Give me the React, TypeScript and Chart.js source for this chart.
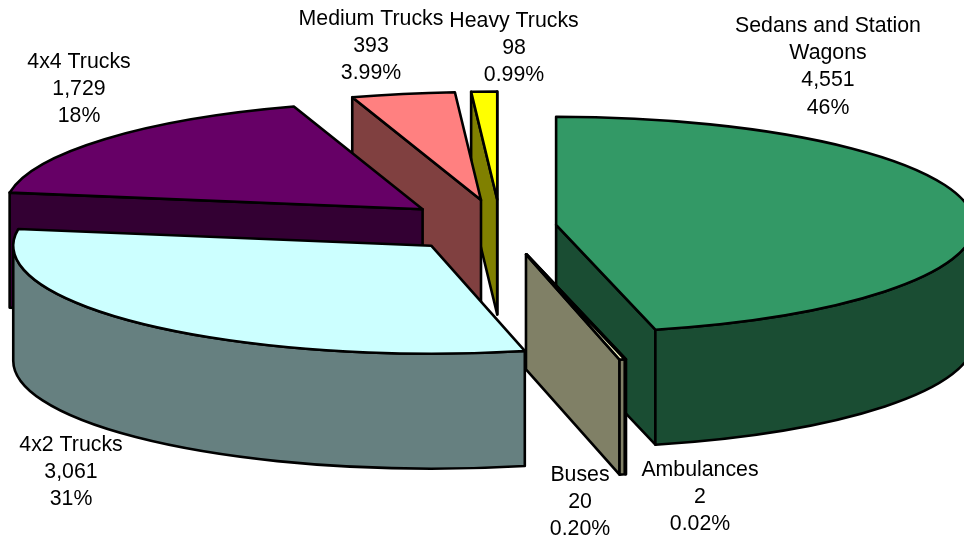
import React, { useEffect, useRef } from "react";
import { Chart, registerables } from "chart.js";

Chart.register(...registerables);

const categories = ["Sedans and Station Wagons", "Ambulances", "Buses", "4x2 Trucks", "4x4 Trucks", "Medium Trucks", "Heavy Trucks"];
const unitValues = [4551, 2, 20, 3061, 1729, 393, 98];
const valueLabels = ["4,551", "2", "20", "3,061", "1,729", "393", "98"];
const percentLabels = ["46%", "0.02%", "0.20%", "31%", "18%", "3.99%", "0.99%"];
const sliceColors = ["#339966", "#993366", "#FFFFCC", "#CCFFFF", "#660066", "#FF8080", "#FFFF00"];
const explosions = [0.134, 0.265, 0.265, 0.243, 0.245, 0.25, 0.25];

// Label layout: name lines, centre x and middle y of the first line.
const labelNames = [["Sedans and Station", "Wagons"], ["Ambulances"], ["Buses"], ["4x2 Trucks"], ["4x4 Trucks"], ["Medium Trucks"], ["Heavy Trucks"]];
const labelX = [828, 700, 580, 71, 79, 371, 514];
const labelY = [26, 470, 475, 445, 62, 19, 21];
const LINE_HEIGHT = 27.3;

const TILT = 108 / 418;
const DEPTH = 115;
const RADIUS = 418;

const halfColor = (hex: string) => {
  const n = parseInt(hex.slice(1), 16);
  const c = (v: number) => Math.round(v / 2);
  return `rgb(${c((n >> 16) & 255)},${c((n >> 8) & 255)},${c(n & 255)})`;
};

const pie3d = {
  id: "pie3d",
  beforeDatasetsDraw(chart: any) {
    const ctx: CanvasRenderingContext2D = chart.ctx;
    const arcs = chart.getDatasetMeta(0).data as any[];
    const slices = arcs.map((arc, i) => {
      const a = arc.startAngle;
      const b = arc.endAngle;
      const mid = (a + b) / 2;
      const r = arc.outerRadius;
      return {
        i, a, b, r,
        x: arc.x + explosions[i] * r * Math.cos(mid),
        y: arc.y + explosions[i] * r * TILT * Math.sin(mid),
      };
    });
    slices.sort((p, q) => p.y - q.y || p.i - q.i);
    ctx.save();
    ctx.lineWidth = 2.6;
    ctx.lineJoin = "round";
    ctx.strokeStyle = "#000";
    for (const s of slices) {
      const ry = s.r * TILT;
      const wall = halfColor(sliceColors[s.i]);
      const radialWall = (t: number) => {
        const px = s.x + s.r * Math.cos(t);
        const py = s.y + ry * Math.sin(t);
        ctx.beginPath();
        ctx.moveTo(s.x, s.y);
        ctx.lineTo(px, py);
        ctx.lineTo(px, py + DEPTH);
        ctx.lineTo(s.x, s.y + DEPTH);
        ctx.closePath();
        ctx.fillStyle = wall;
        ctx.fill();
        ctx.stroke();
      };
      if (-Math.cos(s.a) > 0) radialWall(s.a);
      if (Math.cos(s.b) > 0) radialWall(s.b);
      const from = Math.max(s.a, 0);
      const to = Math.min(s.b, Math.PI);
      if (to > from) {
        ctx.beginPath();
        ctx.ellipse(s.x, s.y, s.r, ry, 0, from, to);
        ctx.ellipse(s.x, s.y + DEPTH, s.r, ry, 0, to, from, true);
        ctx.closePath();
        ctx.fillStyle = wall;
        ctx.fill();
        ctx.stroke();
      }
      ctx.beginPath();
      ctx.moveTo(s.x, s.y);
      ctx.ellipse(s.x, s.y, s.r, ry, 0, s.a, s.b);
      ctx.closePath();
      ctx.fillStyle = sliceColors[s.i];
      ctx.fill();
      ctx.stroke();
    }
    ctx.restore();
    return false;
  },
  afterDraw(chart: any) {
    const ctx: CanvasRenderingContext2D = chart.ctx;
    ctx.save();
    ctx.font = '21.3px "Liberation Sans"';
    ctx.fillStyle = "#000";
    ctx.textAlign = "center";
    ctx.textBaseline = "middle";
    categories.forEach((_, i) => {
      const lines = [...labelNames[i], valueLabels[i], percentLabels[i]];
      lines.forEach((line, k) => ctx.fillText(line, labelX[i], labelY[i] + k * LINE_HEIGHT));
    });
    ctx.restore();
  },
};

export default function App() {
  const ref = useRef<HTMLCanvasElement>(null);
  useEffect(() => {
    const chart = new Chart(ref.current!, {
      type: "pie",
      data: {
        labels: categories,
        datasets: [{ data: unitValues, backgroundColor: sliceColors, borderColor: "#000", borderWidth: 2 }],
      },
      options: {
        animation: false,
        responsive: false,
        radius: RADIUS,
        layout: { padding: { left: 37, bottom: 87 } },
        plugins: { legend: { display: false }, tooltip: { enabled: false } },
      },
      plugins: [pie3d],
    } as any);
    return () => chart.destroy();
  }, []);
  return (
    <div style={{ position: "absolute", left: 0, top: 0, width: 964, height: 540, background: "#fff", overflow: "hidden" }}>
      <canvas ref={ref} width={964} height={540} style={{ display: "block" }} />
    </div>
  );
}
